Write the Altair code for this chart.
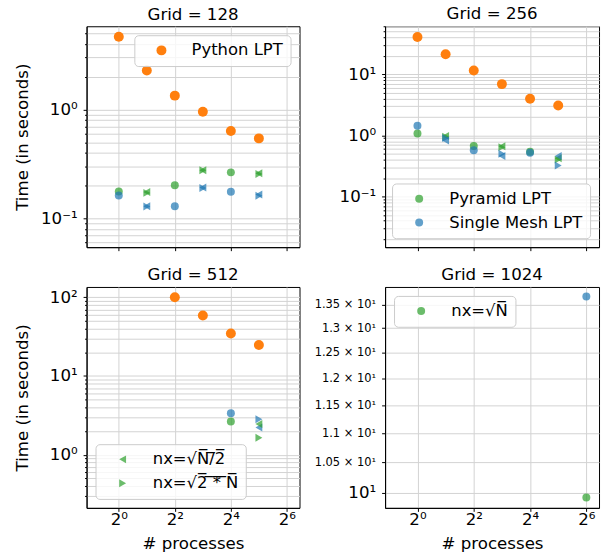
import altair as alt
import pandas as pd

FONT = "DejaVu Sans"
ORANGE = "#ff7f0e"
GREEN = "#2ca02c"
BLUE = "#1f77b4"

IMPLS = ["Python LPT", "Pyramid LPT", "Single Mesh LPT"]
NXS = ["sqrtN", "half", "double"]

L_SQRT = "nx=\u221aN\u0305"
L_HALF = "nx=\u221aN\u0305/\u03052\u0305"
L_DOUBLE = "nx=\u221a2\u0305 \u0305*\u0305 \u0305N\u0305"

# ---------------- data ----------------
even_procs = [1, 4, 16]
odd_procs = [2, 8, 32]

# Grid 128
py_procs_128 = [1, 2, 4, 8, 16, 32]
py_time_128 = [4.67, 2.28, 1.34, 0.953, 0.634, 0.542]
pyr_sqrt_128 = [0.176, 0.201, 0.264]
pyr_half_128 = [0.174, 0.276, 0.259]
pyr_double_128 = [0.171, 0.276, 0.255]
sm_sqrt_128 = [0.162, 0.129, 0.175]
sm_half_128 = [0.129, 0.192, 0.165]
sm_double_128 = [0.128, 0.190, 0.161]

# Grid 256
py_procs_256 = [1, 2, 4, 8, 16, 32]
py_time_256 = [40.6, 21.2, 11.5, 6.87, 3.95, 3.08]
pyr_sqrt_256 = [1.07, 0.668, 0.54]
pyr_half_256 = [0.97, 0.66, 0.42]
pyr_double_256 = [0.95, 0.64, 0.40]
sm_sqrt_256 = [1.43, 0.567, 0.52]
sm_half_256 = [0.82, 0.46, 0.46]
sm_double_256 = [0.90, 0.50, 0.32]

# Grid 512
py_procs_512 = [4, 8, 16, 32]
py_time_512 = [100.0, 58.5, 34.6, 24.7]
procs_16 = [16]
procs_32 = [32]
pyr_sqrt_512 = [2.64]
sm_sqrt_512 = [3.37]
pyr_half_512 = [2.45]
pyr_double_512 = [1.64]
sm_half_512 = [2.22]
sm_double_512 = [2.82]

# Grid 1024
procs_64 = [64]
pyr_sqrt_1024 = [9.93]
sm_sqrt_1024 = [13.67]

records = []


def add(grid, impl, nx, procs, times, legend=""):
    for p, t in zip(procs, times):
        records.append(dict(grid=grid, impl=impl, nx=nx, procs=p, time=t, legend=legend))


# draw order: pyramid, single mesh, python
add(128, "Pyramid LPT", "sqrtN", even_procs, pyr_sqrt_128)
add(128, "Pyramid LPT", "half", odd_procs, pyr_half_128)
add(128, "Pyramid LPT", "double", odd_procs, pyr_double_128)
add(128, "Single Mesh LPT", "sqrtN", even_procs, sm_sqrt_128)
add(128, "Single Mesh LPT", "half", odd_procs, sm_half_128)
add(128, "Single Mesh LPT", "double", odd_procs, sm_double_128)
add(128, "Python LPT", "sqrtN", py_procs_128, py_time_128, legend="Python LPT")

add(256, "Pyramid LPT", "half", odd_procs, pyr_half_256)
add(256, "Pyramid LPT", "double", odd_procs, pyr_double_256)
add(256, "Single Mesh LPT", "half", odd_procs, sm_half_256)
add(256, "Single Mesh LPT", "double", odd_procs, sm_double_256)
add(256, "Python LPT", "sqrtN", py_procs_256, py_time_256)
add(256, "Pyramid LPT", "sqrtN", even_procs, pyr_sqrt_256, legend="Pyramid LPT")
add(256, "Single Mesh LPT", "sqrtN", even_procs, sm_sqrt_256, legend="Single Mesh LPT")

add(512, "Pyramid LPT", "sqrtN", procs_16, pyr_sqrt_512)
add(512, "Single Mesh LPT", "sqrtN", procs_16, sm_sqrt_512)
add(512, "Single Mesh LPT", "half", procs_32, sm_half_512)
add(512, "Single Mesh LPT", "double", procs_32, sm_double_512)
add(512, "Python LPT", "sqrtN", py_procs_512, py_time_512)
add(512, "Pyramid LPT", "half", procs_32, pyr_half_512, legend=L_HALF)
add(512, "Pyramid LPT", "double", procs_32, pyr_double_512, legend=L_DOUBLE)

add(1024, "Single Mesh LPT", "sqrtN", procs_64, sm_sqrt_1024)
add(1024, "Pyramid LPT", "sqrtN", procs_64, pyr_sqrt_1024, legend=L_SQRT)

df = pd.DataFrame(records)

# ---------------- axes ticks ----------------
x_ticks = [1, 4, 16, 64]
x_labels = ["2\u2070", "2\u00b2", "2\u2074", "2\u2076"]
x_domain = [2 ** -1.15, 2 ** 6.45]

SUP = {-1: "\u207b\u00b9", 0: "\u2070", 1: "\u00b9", 2: "\u00b2"}


def log_ticks(lo_exp, hi_exp, lo, hi):
    vals = []
    for e in range(lo_exp, hi_exp + 1):
        for m in range(1, 10):
            v = round(m * 10.0 ** e, 6)
            if lo <= v <= hi:
                vals.append(v)
    return vals


panels = [
    dict(grid=128, domain=[0.0542, 5.82], ticks=log_ticks(-2, 0, 0.0542, 5.82),
         major=[0.1, 1], labels=["10" + SUP[-1], "10" + SUP[0]],
         leg_labels=["Python LPT"], leg_colors=[ORANGE], leg_shapes=["circle"],
         leg_orient="top-right", leg_opacity=1.0, leg_size=100),
    dict(grid=256, domain=[0.0148, 60.7], ticks=log_ticks(-2, 1, 0.0148, 60.7),
         major=[0.1, 1, 10], labels=["10" + SUP[-1], "10" + SUP[0], "10" + SUP[1]],
         leg_labels=["Pyramid LPT", "Single Mesh LPT"], leg_colors=[GREEN, BLUE],
         leg_shapes=["circle", "circle"], leg_orient="bottom-right", leg_opacity=0.7, leg_size=64),
    dict(grid=512, domain=[0.211, 135], ticks=log_ticks(-1, 2, 0.211, 135),
         major=[1, 10, 100], labels=["10" + SUP[0], "10" + SUP[1], "10" + SUP[2]],
         leg_labels=[L_HALF, L_DOUBLE], leg_colors=[GREEN, GREEN],
         leg_shapes=["triangle-left", "triangle-right"], leg_orient="bottom-left",
         leg_opacity=0.7, leg_size=64),
    dict(grid=1024, domain=[9.766, 13.88],
         ticks=[10, 10.5, 11, 11.5, 12, 12.5, 13, 13.5],
         major=[10, 10.5, 11, 11.5, 12, 12.5, 13, 13.5],
         labels=["10" + SUP[1], "1.05 \u00d7 10\u00b9", "1.1 \u00d7 10\u00b9", "1.15 \u00d7 10\u00b9",
                 "1.2 \u00d7 10\u00b9", "1.25 \u00d7 10\u00b9", "1.3 \u00d7 10\u00b9", "1.35 \u00d7 10\u00b9"],
         leg_labels=[L_SQRT], leg_colors=[GREEN], leg_shapes=["circle"],
         leg_orient="top-left", leg_opacity=0.7, leg_size=64),
]


def label_expr(values, labels):
    s = ""
    for v, lab in zip(values, labels):
        s += f"datum.value == {v} ? '{lab}' : "
    return s + "''"


def make_panel(p, left, bottom, width):
    g = p["grid"]
    d = df[df.grid == g]
    others_df = d[d.legend == ""]
    leg_df = d[d.legend != ""]

    major_test = " || ".join(f"datum.value == {v}" for v in p["major"])
    y_axis_kw = dict(
        values=p["ticks"],
        labelExpr=label_expr(p["major"], p["labels"]),
        grid=True,
        tickSize={"condition": {"test": major_test, "value": 3.5}, "value": 2},
        labelPadding=6,
        title="Time (in seconds)" if left else None,
        minExtent=48 if left else 70,
        maxExtent=48 if left else 70,
        titlePadding=7,
    )
    if g == 1024:
        y_axis_kw["labelFontSize"] = {"condition": {"test": "datum.value == 10", "value": 16.7},
                                      "value": 11.5}
        y_axis_kw["tickSize"] = 3.5
    y = alt.Y("time:Q", scale=alt.Scale(type="log", domain=p["domain"], nice=False),
              axis=alt.Axis(**y_axis_kw))
    x = alt.X("procs:Q", scale=alt.Scale(type="log", base=2, domain=x_domain, nice=False),
              axis=alt.Axis(values=x_ticks, labelExpr=label_expr(x_ticks, x_labels),
                            labels=bottom, grid=True, tickSize=3.5, labelPadding=0,
                            title="# processes" if bottom else None, titlePadding=8))

    others = alt.Chart(others_df).mark_point(filled=True).encode(
        x=x, y=y,
        color=alt.Color("impl:N", scale=alt.Scale(domain=IMPLS, range=[ORANGE, GREEN, BLUE]),
                        legend=None),
        shape=alt.Shape("nx:N", scale=alt.Scale(domain=NXS,
                                                 range=["circle", "triangle-left", "triangle-right"]),
                        legend=None),
        opacity=alt.condition("datum.impl == 'Python LPT'", alt.value(1.0), alt.value(0.7)),
        size=alt.condition("datum.impl == 'Python LPT'", alt.value(100), alt.value(64)),
    )

    lg = alt.Legend(
        title=None, orient=p["leg_orient"], offset=9,
        fillColor="rgba(255,255,255,0.8)", strokeColor="#cccccc", cornerRadius=4,
        padding=7, rowPadding=7, labelFont=FONT, labelFontSize=16.5, labelColor="black",
        labelLimit=400, symbolSize=p["leg_size"], symbolOffset=12, labelOffset=22,
        symbolOpacity=p["leg_opacity"], symbolStrokeWidth=0,
    )
    leg = alt.Chart(leg_df).mark_point(filled=True, opacity=p["leg_opacity"],
                                       size=p["leg_size"]).encode(
        x=x, y=y,
        color=alt.Color("legend:N", scale=alt.Scale(domain=p["leg_labels"], range=p["leg_colors"]),
                        legend=lg),
        shape=alt.Shape("legend:N", scale=alt.Scale(domain=p["leg_labels"], range=p["leg_shapes"]),
                        legend=lg),
    )

    return alt.layer(others, leg).resolve_scale(color="independent", shape="independent").properties(
        width=width, height=222,
        title=alt.TitleParams(f"Grid = {g}", font=FONT, fontSize=16.7, fontWeight="normal",
                              color="black", offset=3, anchor="middle"),
    )


p1 = make_panel(panels[0], left=True, bottom=False, width=214)
p2 = make_panel(panels[1], left=False, bottom=False, width=215)
p3 = make_panel(panels[2], left=True, bottom=True, width=214)
p4 = make_panel(panels[3], left=False, bottom=True, width=215)

chart = alt.concat(p1, p2, p3, p4, columns=2, spacing={"row": 14, "column": 13}).resolve_scale(
    color="independent", shape="independent", x="independent", y="independent"
).configure_view(stroke="black", strokeWidth=1).configure_axis(
    domainColor="black", domainWidth=1, tickColor="black", tickWidth=1,
    gridColor="#d3d3d3", gridWidth=1,
    labelFont=FONT, labelFontSize=16.7, labelColor="black",
    titleFont=FONT, titleFontSize=16.7, titleColor="black", titleFontWeight="normal",
).configure_title(fontWeight="normal", font=FONT).properties(
    padding={"left": 14, "top": 4, "right": 5, "bottom": 5}, background="white")

chart.save("out.html", embed_options={"renderer": "svg", "actions": False})
